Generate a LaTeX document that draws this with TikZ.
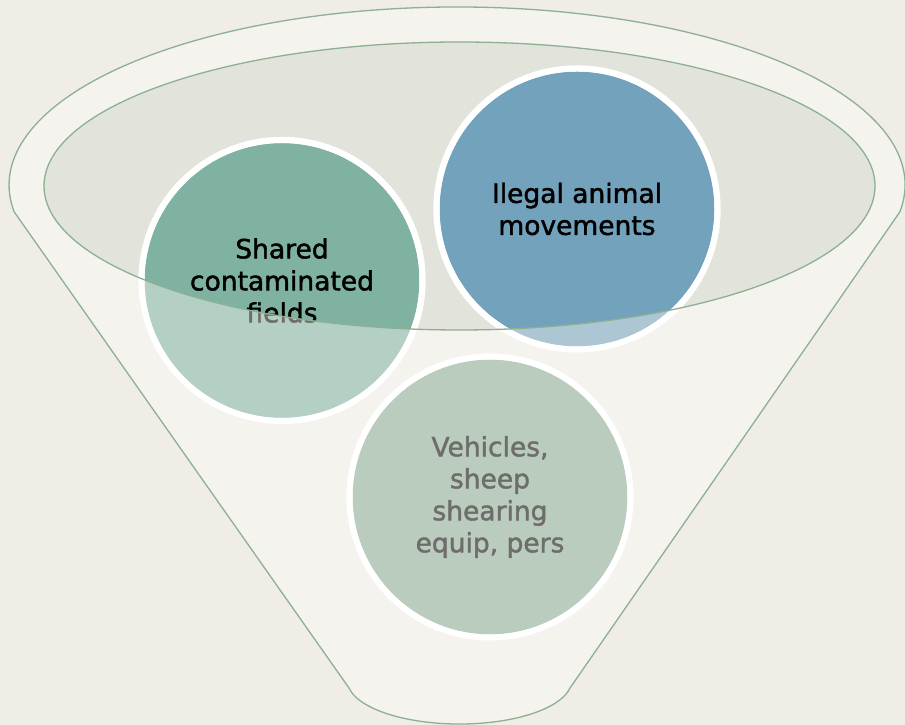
\documentclass[tikz,border=0pt]{standalone}
\usepackage{fontspec}
\setmainfont{DejaVu Sans}
\newfontfamily\bubfont{DejaVu Sans}[FakeBold=1.6]
\definecolor{bgcol}{HTML}{EFEDE6}
\definecolor{bodycol}{HTML}{F4F3EE}
\definecolor{mouthcol}{HTML}{E2E4DB}
\definecolor{edgecol}{HTML}{8DAF94}
\definecolor{tealcol}{HTML}{80B2A2}
\definecolor{steelcol}{HTML}{73A2BD}
\definecolor{sagecol}{HTML}{8AAC95}
\tikzset{
  funnel/.style={insert path={(899.85,513.1) arc[start angle=-8.7,end angle=188.7,x radius=448,y radius=178] -- (349,37) arc[start angle=190,end angle=350,x radius=112.2,y radius=43.6] -- cycle}},
  mouth/.style={insert path={(459.5,539) ellipse[x radius=415.5,y radius=144]}},
  bub/.style={circle, draw=white, line width=6pt, minimum size=281pt, inner sep=0pt,
    align=center, text=black, font=\bubfont\fontsize{26.5}{32}\selectfont},
  ring/.style={circle, draw=white, line width=6pt, minimum size=281pt, inner sep=0pt},
  outline/.style={draw=edgecol, line width=1.3pt}
}
\begin{document}
\begin{tikzpicture}[x=1pt,y=1pt]
\useasboundingbox (0,0) rectangle (905,725);
\fill[bgcol] (0,0) rectangle (905,725);
% funnel body and mouth
\fill[bodycol, funnel];
\fill[mouthcol, mouth];
% bubbles
\node[bub, fill=tealcol] (c1) at (282,444.5) {Shared\\contaminated\\fields};
\node[bub, fill=steelcol] (c2) at (577,516) {Ilegal animal\\movements};
\node[bub, fill=sagecol] (c3) at (490,228) {Vehicles,\\sheep\\shearing\\equip, pers};
% translucent front of the funnel
\fill[bodycol, opacity=0.45, even odd rule, funnel, mouth];
% white rings stay bright
\node[ring] (r1) at (c1.center) {};
\node[ring] (r2) at (c2.center) {};
\node[ring] (r3) at (c3.center) {};
% outlines
\path[outline, funnel];
\path[outline, mouth];
\end{tikzpicture}
\end{document}
